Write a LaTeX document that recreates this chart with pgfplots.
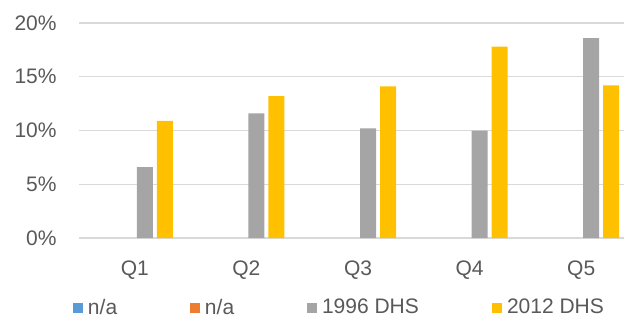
\documentclass[border=0pt]{standalone}
\usepackage{pgfplots}
\pgfplotsset{compat=1.18}
\usepackage{fontspec}
\setmainfont{Liberation Sans}
\definecolor{txt}{HTML}{595959}
\definecolor{gridc}{HTML}{D9D9D9}
\definecolor{cblue}{HTML}{5B9BD5}
\definecolor{corange}{HTML}{ED7D31}
\definecolor{cgray}{HTML}{A5A5A5}
\definecolor{cgold}{HTML}{FFC000}
\begin{document}
\fontsize{10.5}{12.6}\selectfont
\begin{tikzpicture}
\useasboundingbox (0,0) rectangle (312pt,158pt);
\begin{axis}[
 at={(39.5pt,39pt)}, anchor=south west,
 scale only axis, width=279pt, height=107.5pt,
 xmin=-0.5, xmax=4.5, ymin=0, ymax=20,
 ybar=2pt, bar width=8pt,
 xtick={0,1,2,3,4}, xticklabels={Q1,Q2,Q3,Q4,Q5},
 ytick={0,5,10,15,20}, yticklabels={0\%,5\%,10\%,15\%,20\%},
 ymajorgrids, grid style={gridc, line width=0.6pt},
 axis line style={draw=none}, major tick length=0pt,
 tick label style={font=\fontsize{10.5}{12.6}\selectfont, text=txt},
 yticklabel style={inner sep=0pt, xshift=-11pt},
 xticklabel style={inner sep=0pt, yshift=-11pt},
 legend columns=4,
 legend image code/.code={\fill[#1] (0pt,-2.5pt) rectangle (5pt,2.5pt);},
 legend style={draw=none, fill=none, inner sep=0pt, outer sep=0pt,
   at={(axis description cs:-0.01075,-0.326)}, anchor=west,
   font=\fontsize{10.5}{12.6}\selectfont, text=txt,
   nodes={inner sep=0pt, anchor=west},
   column sep=0pt,
   /tikz/every odd column/.append style={column sep=2.5pt}},
]
\addplot[draw=none, fill=none, legend image code/.code={\fill[cblue] (0pt,-2.5pt) rectangle (5pt,2.5pt);}] coordinates {(0,0) (1,0) (2,0) (3,0) (4,0)};
\addlegendentry{\makebox[51pt][l]{n/a}}
\addplot[draw=none, fill=none, legend image code/.code={\fill[corange] (0pt,-2.5pt) rectangle (5pt,2.5pt);}] coordinates {(0,0) (1,0) (2,0) (3,0) (4,0)};
\addlegendentry{\makebox[51pt][l]{n/a}}
\addplot[draw=none, fill=cgray] coordinates {(0,6.6) (1,11.6) (2,10.2) (3,10.0) (4,18.6)};
\addlegendentry{\makebox[85pt][l]{1996 DHS}}
\addplot[draw=none, fill=cgold] coordinates {(0,10.9) (1,13.2) (2,14.1) (3,17.8) (4,14.2)};
\addlegendentry{2012 DHS}
\end{axis}
\end{tikzpicture}
\end{document}
